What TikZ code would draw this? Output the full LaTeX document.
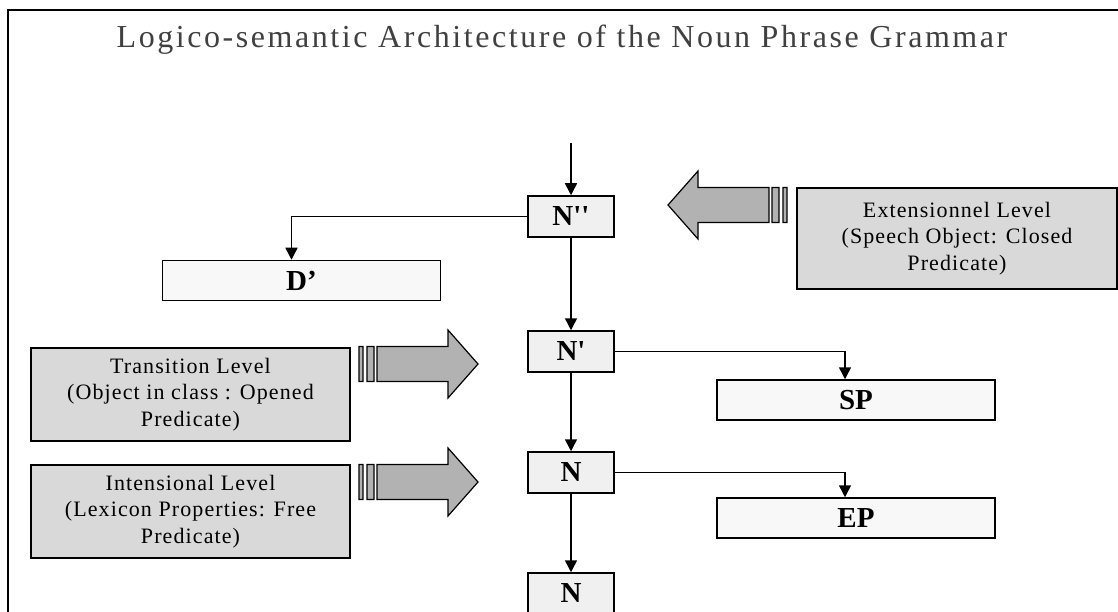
\documentclass[tikz,border=0pt]{standalone}
\usepackage{fontspec}
\setmainfont{Liberation Serif}
\newfontfamily\spacedfont[LetterSpace=5]{Liberation Serif}
\newfontfamily\titlefont[LetterSpace=8]{Liberation Serif}
\usetikzlibrary{arrows.meta, positioning}
\definecolor{levelgray}{HTML}{D9D9D9}
\definecolor{arrowgray}{HTML}{B2B2B2}
\definecolor{catfill}{HTML}{F0F0F0}
\definecolor{phrasefill}{HTML}{F8F8F8}
\definecolor{titlegray}{HTML}{404040}

\tikzset{
 catbox/.style={draw=black, line width=1.5pt, fill=catfill, inner sep=0pt,
   minimum width=86pt, minimum height=41pt, font=\fontsize{29}{30}\selectfont\bfseries},
 phrasebox/.style={catbox, fill=phrasefill, minimum width=278pt, minimum height=40pt},
 levelbox/.style={draw=black, line width=1.5pt, fill=levelgray, inner sep=0pt,
   minimum width=319pt, minimum height=93pt, align=center,
   font=\spacedfont\fontsize{22}{26.5}\selectfont},
 link/.style={line width=1.5pt, -{Triangle[length=12pt,width=12pt]}},
 levelarrow/.pic={
   \filldraw[fill=arrowgray, line width=1.2pt]
     (0,-17.5) rectangle (4,17.5)
     (8,-17.5) rectangle (15,17.5)
     (18,-17.5) -- (89,-17.5) -- (89,-34) -- (119,0) -- (89,34) -- (89,17.5) -- (18,17.5) -- cycle;
 }
}

\begin{document}
\begin{tikzpicture}[x=1pt, y=-1pt]
 \useasboundingbox (0,0) rectangle (1118,612);
 \clip (0,0) rectangle (1118,612);
 % frame and title
 \draw[line width=1.5pt] (8,640) -- (8,10) -- (1140,10);
 \node[anchor=base, text=titlegray, font=\titlefont\fontsize{32}{34}\selectfont] (title) at (562,48)
   {Logico-semantic Architecture of the Noun Phrase Grammar};

 % categories
 \node[catbox] (npp) at (571,216.5) {N\textquotesingle\textquotesingle};
 \node[phrasebox] (dp) at (301.5,280.5) {D’};
 \node[catbox] (np) at (571,351.5) {N\textquotesingle};
 \node[phrasebox] (sp) at (856,400) {SP};
 \node[catbox] (n) at (571,472.5) {N};
 \node[phrasebox] (ep) at (856,518) {EP};
 \node[catbox] (nbot) at (571,593.5) {N};

 % levels
 \node[levelbox, minimum width=320pt, minimum height=101pt] (ext) at (957,238.5)
   {Extensionnel Level\\(Speech Object: Closed\\Predicate)};
 \node[levelbox] (trans) at (190.5,394.5)
   {Transition Level\\(Object in class : Opened\\Predicate)};
 \node[levelbox] (intens) at (190.5,511.5)
   {Intensional Level\\(Lexicon Properties: Free\\Predicate)};

 \pic[xscale=-1] at (787,205) {levelarrow};
 \pic at (359,364) {levelarrow};
 \pic at (359,482) {levelarrow};

 % connectors
 \coordinate (top) at (571,143);
 \draw[link] (top) -- (npp.north);
 \draw[link] (npp.west) -| ([xshift=-10pt]dp.north);
 \draw[link] (npp.south) -- (np.north);
 \draw[link] (np.east) -| ([xshift=-11pt]sp.north);
 \draw[link] (np.south) -- (n.north);
 \draw[link] (n.east) -| ([xshift=-11pt]ep.north);
 \draw[link] (n.south) -- (nbot.north);
\end{tikzpicture}
\end{document}
